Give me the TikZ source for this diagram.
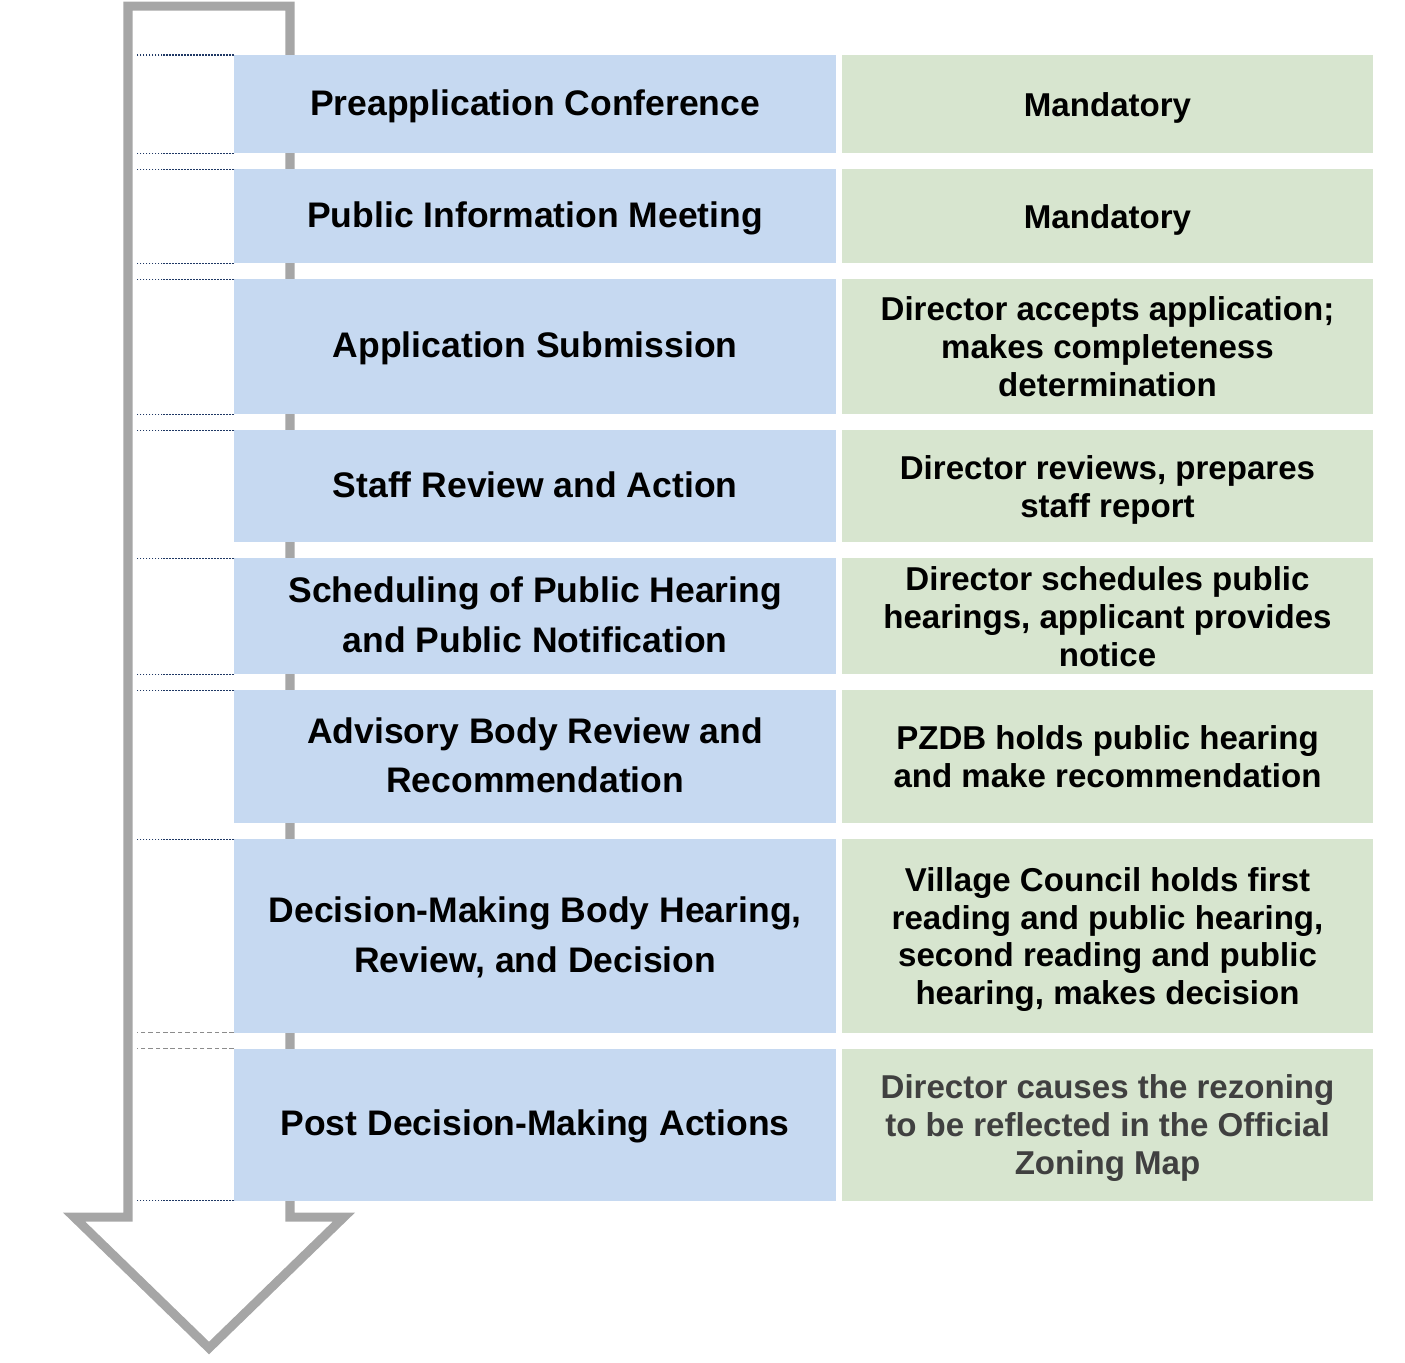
\documentclass[tikz,border=0pt]{standalone}
\usepackage{fontspec}
\setmainfont{Liberation Sans}
\definecolor{stepblue}{HTML}{C6D9F1}
\definecolor{notegreen}{HTML}{D7E5CF}
\definecolor{shaft}{HTML}{A6A6A6}
\definecolor{tickblue}{HTML}{1F3864}
\definecolor{notegray}{HTML}{404040}
\usetikzlibrary{positioning}

\begin{document}
\begin{tikzpicture}[x=0.01cm,y=-0.01cm,
    stepbox/.style={fill=stepblue,inner sep=0pt,outer sep=0pt,minimum width=6.02cm,align=center,text depth=1pt,font=\fontsize{10.1}{14.2}\selectfont\bfseries},
    notebox/.style={fill=notegreen,inner sep=0pt,outer sep=0pt,minimum width=5.30cm,align=center,text depth=-1pt,font=\fontsize{9.4}{10.8}\selectfont\bfseries},
    tick/.style={tickblue,line width=0.3pt,dash pattern=on 0.5pt off 0.35pt},
    tickgray/.style={black!45,line width=0.4pt,dash pattern=on 1.3pt off 0.8pt},
    flowarrow/.style={shaft,line width=0.09cm,miter limit=10}]
  \useasboundingbox (0,0) rectangle (1405,1363);
  % hollow down arrow behind the steps
  \draw[flowarrow] (128,6) -- (290,6) -- (290,1217) -- (344,1217) -- (209,1348) -- (74,1217) -- (128,1217) -- cycle;
  % steps
  \node[stepbox,anchor=north west,minimum height=0.98cm] (s1) at (234,55) {Preapplication Conference};
  \node[stepbox,below=0.16cm of s1,minimum height=0.94cm] (s2) {Public Information Meeting};
  \node[stepbox,below=0.16cm of s2,minimum height=1.35cm] (s3) {Application Submission};
  \node[stepbox,below=0.16cm of s3,minimum height=1.12cm] (s4) {Staff Review and Action};
  \node[stepbox,below=0.16cm of s4,minimum height=1.16cm] (s5) {Scheduling of Public Hearing\\and Public Notification};
  \node[stepbox,below=0.16cm of s5,minimum height=1.33cm] (s6) {Advisory Body Review and\\Recommendation};
  \node[stepbox,below=0.16cm of s6,minimum height=1.93cm] (s7) {Decision-Making Body Hearing,\\Review, and Decision};
  \node[stepbox,below=0.16cm of s7,minimum height=1.52cm] (s8) {Post Decision-Making Actions};
  % notes
  \node[notebox,right=0.06cm of s1,minimum height=0.98cm] (n1) {Mandatory};
  \node[notebox,right=0.06cm of s2,minimum height=0.94cm] (n2) {Mandatory};
  \node[notebox,right=0.06cm of s3,minimum height=1.35cm] (n3) {Director accepts application;\\makes completeness\\determination};
  \node[notebox,right=0.06cm of s4,minimum height=1.12cm] (n4) {Director reviews, prepares\\staff report};
  \node[notebox,right=0.06cm of s5,minimum height=1.16cm] (n5) {Director schedules public\\hearings, applicant provides\\notice};
  \node[notebox,right=0.06cm of s6,minimum height=1.33cm] (n6) {PZDB holds public hearing\\and make recommendation};
  \node[notebox,right=0.06cm of s7,minimum height=1.93cm] (n7) {Village Council holds first\\reading and public hearing,\\second reading and public\\hearing, makes decision};
  \node[notebox,right=0.06cm of s8,minimum height=1.52cm,text=notegray] (n8) {Director causes the rezoning\\to be reflected in the Official\\Zoning Map};
  % guide ticks
  \foreach \c in {s1.north west,s1.south west,s2.north west,s2.south west,s3.north west,s3.south west,s4.north west,s5.north west,s5.south west,s6.north west,s7.north west,s8.south west}
    \draw[tick] (\c) -- ++(-97,0);
  \foreach \c in {s7.south west,s8.north west}
    \draw[tickgray] (\c) -- ++(-97,0);
\end{tikzpicture}
\end{document}
